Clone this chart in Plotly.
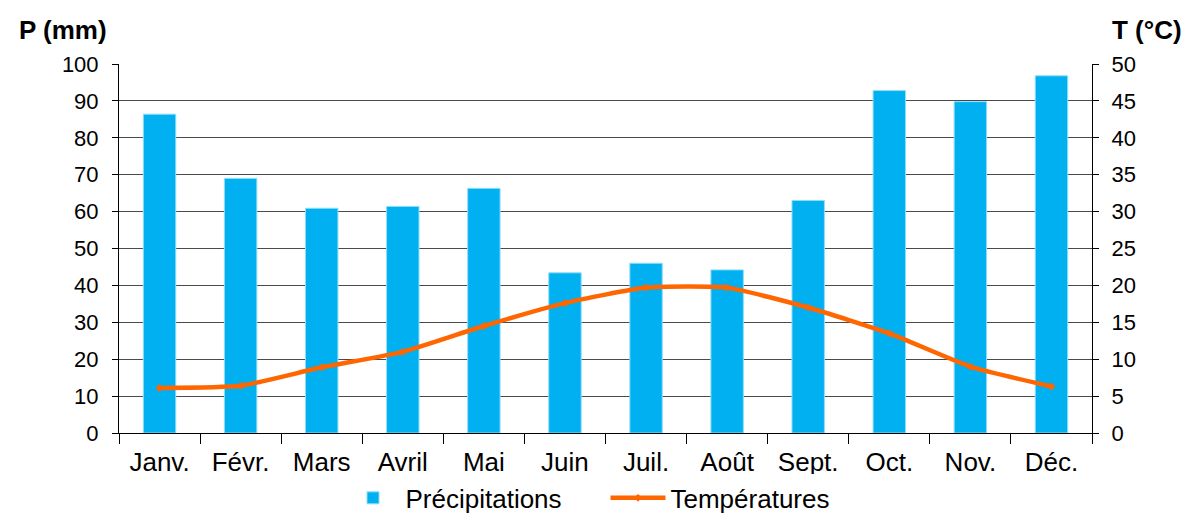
import plotly.graph_objects as go

months = ["Janv.", "Févr.", "Mars", "Avril", "Mai", "Juin",
          "Juil.", "Août", "Sept.", "Oct.", "Nov.", "Déc."]
precip_mm = [86.4, 69.0, 60.9, 61.4, 66.3, 43.4, 46.0, 44.2, 63.0, 92.8, 89.8, 96.8]
temp_c = [6.1, 6.4, 8.9, 11.0, 14.5, 17.6, 19.7, 19.7, 17.0, 13.5, 9.0, 6.3]

FONT = "Liberation Sans, Arial, sans-serif"
BLUE = "#00B0F0"
ORANGE = "#FF6600"

fig = go.Figure()
fig.add_trace(go.Bar(
    x=months, y=precip_mm, name="Précipitations",
    marker=dict(color=BLUE, line=dict(color="#8FDDF8", width=1)),
    width=0.4, yaxis="y",
))
fig.add_trace(go.Scatter(
    x=months, y=temp_c, name="Températures", yaxis="y2",
    mode="lines+markers",
    line=dict(color=ORANGE, width=4.5, shape="spline", smoothing=0.5),
    marker=dict(color=ORANGE, size=6, symbol="diamond"),
))

fig.update_layout(
    width=1186, height=514,
    margin=dict(l=119, r=94, t=64, b=81, autoexpand=False),
    paper_bgcolor="white", plot_bgcolor="white",
    font=dict(family=FONT, color="black", size=22),
    showlegend=True,
    legend=dict(orientation="h", x=0.5, xanchor="center", y=-0.176, yanchor="middle",
                font=dict(size=26), traceorder="normal", itemwidth=55,
                entrywidth=195, entrywidthmode="pixels", tracegroupgap=0),
    xaxis=dict(
        type="category", range=[-0.5, 11.5],
        showline=True, linecolor="black", linewidth=1,
        ticks="outside", tickson="boundaries", ticklen=10, tickcolor="black",
        tickfont=dict(size=26), showgrid=False, ticklabelstandoff=6,
    ),
    yaxis=dict(
        range=[0, 100], dtick=10, tick0=0,
        showline=True, linecolor="black", linewidth=1,
        ticks="outside", ticklen=6, tickcolor="black",
        showgrid=True, gridcolor="#4a4a4a", gridwidth=1,
        zeroline=False, ticklabelstandoff=9,
    ),
    yaxis2=dict(
        range=[0, 50], dtick=5, tick0=0, overlaying="y", side="right",
        showline=True, linecolor="black", linewidth=1,
        ticks="outside", ticklen=6, tickcolor="black",
        showgrid=False, zeroline=False, ticklabelstandoff=8,
    ),
    bargap=0.6,
    annotations=[
        dict(text="<b>P (mm)</b>", xref="paper", yref="paper",
             x=-0.105, y=1.0, xanchor="left", yanchor="bottom", yshift=17,
             showarrow=False, font=dict(size=26)),
        dict(text="<b>T (°C)</b>", xref="paper", yref="paper",
             x=1.018, y=1.0, xanchor="left", yanchor="bottom", yshift=17,
             showarrow=False, font=dict(size=26)),
    ],
)

fig.write_html("out.html")
